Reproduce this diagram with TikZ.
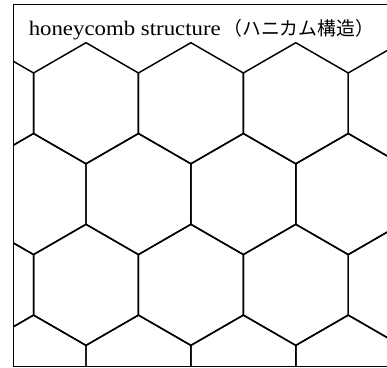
\documentclass[tikz,border=0pt]{standalone}
\usepackage{fontspec}
\setmainfont{Liberation Serif}
\newfontfamily\jp{Noto Sans CJK JP}
\begin{document}
\begin{tikzpicture}[x=0.75pt,y=-0.75pt,
  hexline/.style={line width=1.1pt, line join=miter},
  framestyle/.style={line width=1pt},
  titlestyle/.style={anchor=base west, inner sep=0pt, font=\fontsize{15.5pt}{18pt}\selectfont}]
\useasboundingbox (0,0) rectangle (387,368);
\begin{scope}
\clip (13.3,4.5) rectangle (400,366.5);
\foreach \r in {0,...,3} {
  \foreach \c in {-1,...,4} {
    \pgfmathsetmacro\cx{86 + \c*104.9 + mod(\r,2)*52.45}
    \pgfmathsetmacro\cy{103.25 + \r*90.8}
    \draw[hexline] (\cx,\cy-60.55) -- (\cx+52.45,\cy-30.275) -- (\cx+52.45,\cy+30.275) -- (\cx,\cy+60.55) -- (\cx-52.45,\cy+30.275) -- (\cx-52.45,\cy-30.275) -- cycle;
  }
}
\end{scope}
\draw[framestyle] (400,4.5) -- (13.3,4.5) -- (13.3,366.5) -- (400,366.5);
\node[titlestyle] (title) at (28.5,35) {\resizebox{144pt}{\height}{honeycomb structure}\hspace{2pt}\resizebox{113pt}{!}{\jp （ハニカム構造）}};
\end{tikzpicture}
\end{document}
